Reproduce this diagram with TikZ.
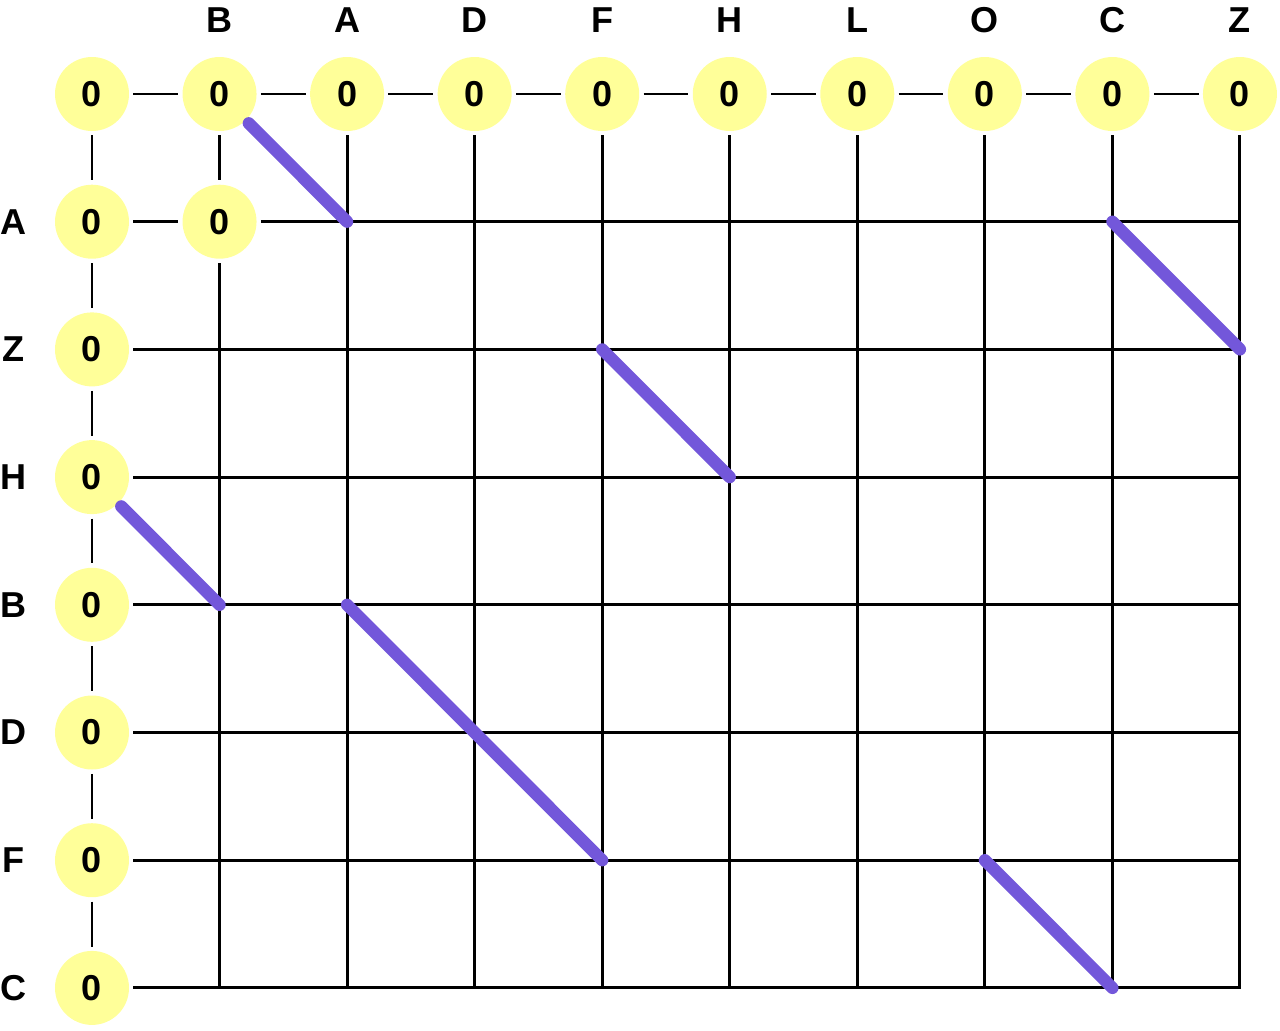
\documentclass[tikz,border=0pt]{standalone}
\usepackage{fontspec}
\setmainfont{Liberation Sans}
\definecolor{cellyellow}{HTML}{FFFF99}
\definecolor{matchpurple}{HTML}{7357DA}

\begin{document}
\begin{tikzpicture}[
    font=\fontsize{20.5}{24}\selectfont\bfseries,
    % Celdas de la tabla (circulos amarillos)
    cell/.style={circle, fill=cellyellow, minimum size=1.48cm, inner sep=0pt, outer sep=2.5pt},
    % Lineas de la rejilla y diagonales de coincidencia
    gridline/.style={line width=1.7pt, draw=black},
    match/.style={line width=7pt, draw=matchpurple, line cap=round},
    hdr/.style={anchor=center}
]

\useasboundingbox (-1.84,1.88) rectangle (23.76,-18.72);

% --- Puntos de la rejilla ---
\foreach \i in {0,...,9}
  \foreach \j in {0,...,7}
    \coordinate (p-\i-\j) at (\i*2.551, -\j*2.554);

% --- Celdas con valor 0 ---
\foreach \i in {0,...,9}
  \node[cell] (c-\i-0) at (p-\i-0) {0};
\foreach \j in {1,...,7}
  \node[cell] (c-0-\j) at (p-0-\j) {0};
\node[cell] (c-1-1) at (p-1-1) {0};

% --- Etiquetas de columnas y filas ---
\foreach \l [count=\i] in {B,A,D,F,H,L,O,C,Z}
  \node[hdr] (col-\i) at (\i*2.551, 1.48) {\l};
\foreach \l [count=\j] in {A,Z,H,B,D,F,C}
  \node[hdr] (row-\j) at (-1.56, -\j*2.554) {\l};

% --- Enlaces entre celdas ---
\foreach \i [evaluate=\i as \k using int(\i+1)] in {0,...,8}
  \draw[gridline] (c-\i-0) -- (c-\k-0);
\foreach \j [evaluate=\j as \k using int(\j+1)] in {0,...,6}
  \draw[gridline] (c-0-\j) -- (c-0-\k);
\draw[gridline] (c-0-1) -- (c-1-1);
\draw[gridline] (c-1-0) -- (c-1-1);

% --- Rejilla ---
\draw[gridline] (c-1-1) -- (p-9-1);
\draw[gridline] (c-1-1) -- (p-1-7);
\foreach \j in {2,...,6}
  \draw[gridline] (c-0-\j) -- (p-9-\j);
\foreach \i in {2,...,8}
  \draw[gridline] (c-\i-0) -- (p-\i-7);
\draw[gridline] (c-0-7) -- (p-9-7) -- (c-9-0);

% --- Diagonales (coincidencias) ---
\draw[match] (c-1-0) -- (p-2-1);
\draw[match] (p-8-1) -- (p-9-2);
\draw[match] (p-4-2) -- (p-5-3);
\draw[match] (c-0-3) -- (p-1-4);
\draw[match] (p-2-4) -- (p-3-5) -- (p-4-6);
\draw[match] (p-7-6) -- (p-8-7);

\end{tikzpicture}
\end{document}
